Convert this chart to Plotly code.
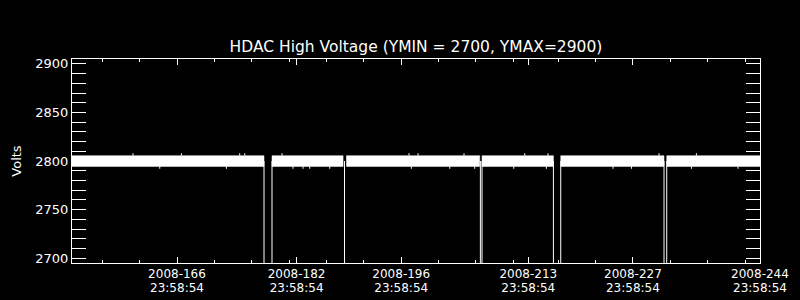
import plotly.graph_objects as go

# ---- data (day-of-year 2008, fractional) ----
seg_start = [152.95, 179.71, 189.67, 207.81, 218.34, 232.52]
seg_end = [178.64, 189.22, 207.50, 217.36, 232.16, 245.00]
band_low = [2794.4, 2794.4, 2794.4, 2794.4, 2794.4, 2794.4]
band_high = [2805.5, 2805.5, 2805.5, 2805.5, 2805.5, 2805.5]

dropout_days = [178.64, 179.71, 189.41, 207.59, 207.81, 217.36, 218.34, 232.16, 232.52]
dropout_level = 2800
dropout_value = 0

up_spike_days = [161.11, 167.59, 175.39, 176.06, 181.05, 198.04, 199.25, 205.40,
                 213.52, 216.64, 231.49, 236.49]
up_spike_value = 2808
down_spike_days = [164.69, 173.61, 182.52, 183.86, 184.76, 187.43, 198.36, 203.49,
                   206.83, 212.05, 216.42, 225.34, 227.80, 235.83, 242.06]
down_spike_value = 2792

major_tick_days = [166.99924, 182.99924, 196.99924, 213.99924, 227.99924, 244.99924]
tick_line1 = ["2008-166", "2008-182", "2008-196", "2008-213", "2008-227", "2008-244"]
tick_line2 = ["23:58:54"] * 6
minor_tick_days = [157, 162, 172, 177, 182.08, 187, 192, 202, 207, 212, 218.1, 223,
                   233, 238, 243]

x_range = [152.95, 245.0]
y_range = [2695, 2905]

FONT = "DejaVu Sans"

# ---- build traces ----
bx, by = [], []
for s, e, lo, hi in zip(seg_start, seg_end, band_low, band_high):
    bx += [s, e, e, s, s, None]
    by += [lo, lo, hi, hi, lo, None]

dx, dy = [], []
for d in dropout_days:
    dx += [d, d, None]
    dy += [dropout_level, dropout_value, None]

sx, sy = [], []
for d in up_spike_days:
    sx += [d, d, None]
    sy += [band_high[0], up_spike_value, None]
for d in down_spike_days:
    sx += [d, d, None]
    sy += [band_low[0], down_spike_value, None]

fig = go.Figure()
fig.add_trace(go.Scatter(x=bx, y=by, mode="lines", fill="toself",
                         fillcolor="white", line=dict(color="white", width=0.5),
                         hoverinfo="skip", showlegend=False))
fig.add_trace(go.Scatter(x=dx, y=dy, mode="lines", line=dict(color="white", width=1),
                         hoverinfo="skip", showlegend=False))
fig.add_trace(go.Scatter(x=sx, y=sy, mode="lines", line=dict(color="white", width=1),
                         hoverinfo="skip", showlegend=False))
# carrier for the second line of x tick labels
fig.add_trace(go.Scatter(x=[], y=[], xaxis="x2", yaxis="y", showlegend=False))

fig.update_layout(
    width=800, height=300,
    margin=dict(l=72, r=40, t=59, b=37),
    paper_bgcolor="black", plot_bgcolor="black",
    font=dict(family=FONT, color="white", size=13),
    title=dict(text="HDAC High Voltage (YMIN = 2700, YMAX=2900)",
               x=0.5, xref="paper", xanchor="center",
               y=1 - 47 / 300, yref="container", yanchor="middle",
               font=dict(family=FONT, size=15.5, color="white")),
    xaxis=dict(range=x_range, showline=True, linecolor="white", linewidth=1,
               mirror="allticks", ticks="inside", ticklen=6, tickwidth=1,
               tickcolor="white", tickmode="array", tickvals=major_tick_days,
               ticktext=tick_line1, showgrid=False, zeroline=False,
               automargin=False, ticklabelstandoff=0,
               tickfont=dict(family=FONT, size=12, color="white"),
               minor=dict(tickmode="array", tickvals=minor_tick_days, ticks="inside",
                          ticklen=3, tickwidth=1, tickcolor="white", showgrid=False)),
    xaxis2=dict(range=x_range, overlaying="x", anchor="y", side="bottom",
                showline=False, ticks="", tickmode="array", tickvals=major_tick_days,
                ticktext=tick_line2, showgrid=False, zeroline=False,
                automargin=False, ticklabelstandoff=16,
                tickfont=dict(family=FONT, size=12, color="white")),
    yaxis=dict(range=y_range, showline=True, linecolor="white", linewidth=1,
               mirror="allticks", ticks="inside", ticklen=14, tickwidth=1,
               tickcolor="white", tick0=2700, dtick=50, showgrid=False,
               zeroline=False, automargin=False,
               tickfont=dict(family=FONT, size=13, color="white"),
               title=dict(text="Volts", standoff=10,
                          font=dict(family=FONT, size=13, color="white")),
               minor=dict(dtick=10, tick0=2700, ticks="inside", ticklen=7,
                          tickwidth=1, tickcolor="white", showgrid=False)),
)

fig.write_html("out.html")
